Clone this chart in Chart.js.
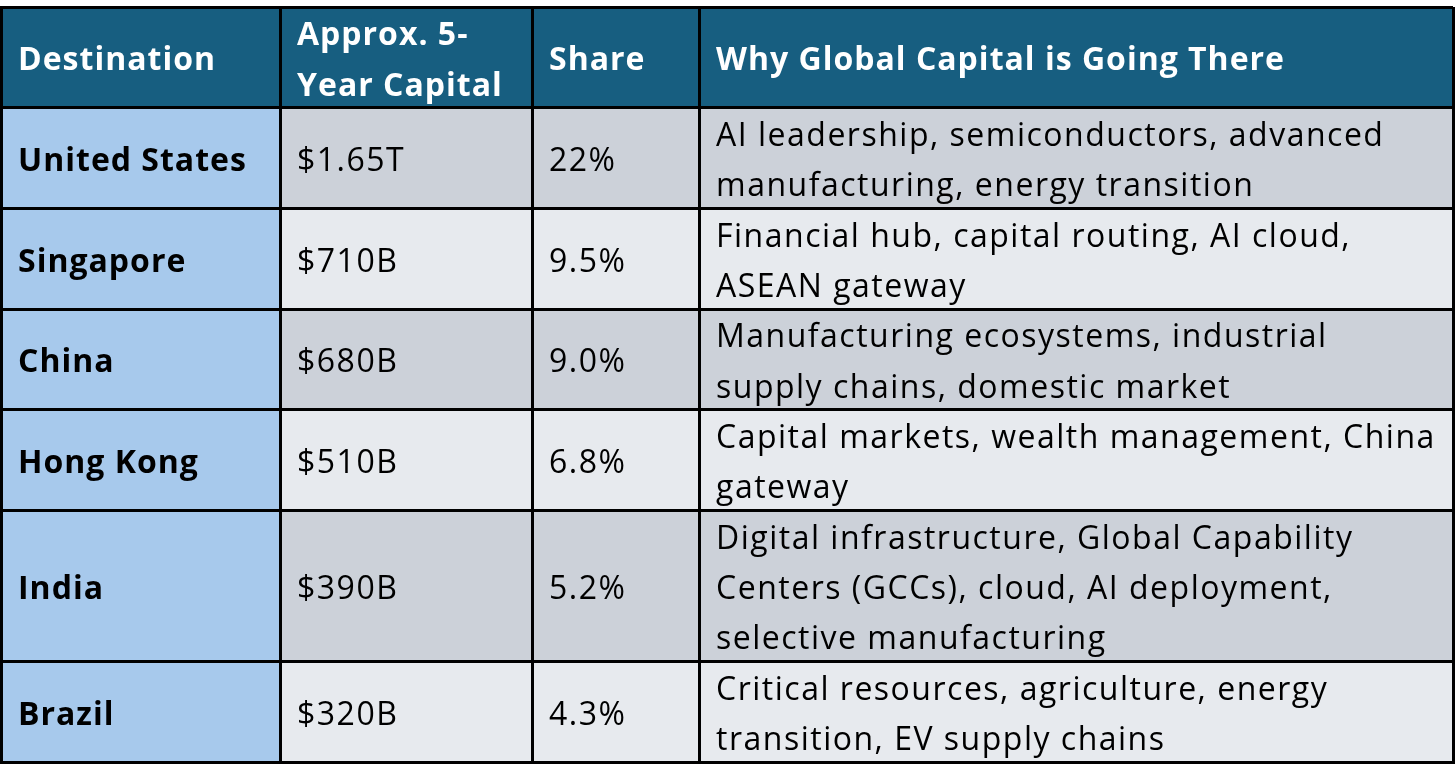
<!DOCTYPE html>
<html><head><meta charset="utf-8">
<style>html,body{margin:0;padding:0;background:#fff;overflow:hidden}
#wrap{width:1456px;height:784px;position:relative}</style>
<script src="https://cdn.jsdelivr.net/npm/chart.js@4.4.1/dist/chart.umd.min.js"></script>
</head><body><div id="wrap"><canvas id="c" width="1456" height="784"></canvas></div>
<script>
// ---- data ----
const headers = [["Destination"], ["Approx. 5-", "Year Capital"], ["Share"], ["Why Global Capital is Going There"]];
const destinations = ["United States", "Singapore", "China", "Hong Kong", "India", "Brazil"];
const capital = ["$1.65T", "$710B", "$680B", "$510B", "$390B", "$320B"];
const share = ["22%", "9.5%", "9.0%", "6.8%", "5.2%", "4.3%"];
const reasons = [
  ["AI leadership, semiconductors, advanced", "manufacturing, energy transition"],
  ["Financial hub, capital routing, AI cloud,", "ASEAN gateway"],
  ["Manufacturing ecosystems, industrial", "supply chains, domestic market"],
  ["Capital markets, wealth management, China", "gateway"],
  ["Digital infrastructure, Global Capability", "Centers (GCCs), cloud, AI deployment,", "selective manufacturing"],
  ["Critical resources, agriculture, energy", "transition, EV supply chains"]
];

// ---- layout / style ----
const colWidths = [279, 252, 167, 754];
const headerLines = 2;
const FONT = "'Open Sans', 'Noto Sans', sans-serif";
const FS = 32;
const LS_REG = "1.5px", LS_BOLD = "1px";
const TEXT_DY = 4;
const C_HEAD = "#175e80", C_FIRST = "#a7c9ec", C_DARK = "#ccd1d9", C_LIGHT = "#e7eaee";

const colEdges = [0];
colWidths.forEach(w => colEdges.push(colEdges[colEdges.length - 1] + w));
const rowLines = [headerLines].concat(reasons.map(r => Math.max(2, r.length)));
const rowEdges = [0];
rowLines.forEach(n => rowEdges.push(rowEdges[rowEdges.length - 1] + n));
const totalX = colEdges[colEdges.length - 1];
const totalY = rowEdges[rowEdges.length - 1];

function cell(x0, x1, y0, y1, color) {
  return {
    data: [{x: x0, y: y0}, {x: x1, y: y0}],
    fill: {value: y1}, backgroundColor: color, borderWidth: 0,
    pointRadius: 0, pointHoverRadius: 0, tension: 0
  };
}
const datasets = [cell(0, totalX, rowEdges[0], rowEdges[1], C_HEAD)];
destinations.forEach((d, i) => {
  datasets.push(cell(colEdges[0], colEdges[1], rowEdges[i + 1], rowEdges[i + 2], C_FIRST));
  datasets.push(cell(colEdges[1], totalX, rowEdges[i + 1], rowEdges[i + 2], i % 2 === 0 ? C_DARK : C_LIGHT));
});

const textPlugin = {
  id: 'tableText',
  afterDraw(chart) {
    const {ctx, scales: {x, y}} = chart;
    ctx.save();
    ctx.textBaseline = 'middle';
    ctx.textAlign = 'left';
    const pad = 17;
    function drawCell(lines, col, row, bold, color) {
      const top = rowEdges[row], n = rowLines[row];
      const start = top + (n - lines.length) / 2;
      ctx.font = (bold ? "bold " : "") + FS + "px " + FONT;
      if ('letterSpacing' in ctx) ctx.letterSpacing = bold ? LS_BOLD : LS_REG;
      ctx.fillStyle = color;
      lines.forEach((t, k) => {
        ctx.fillText(t, x.getPixelForValue(colEdges[col]) + pad, y.getPixelForValue(start + k + 0.5) + TEXT_DY);
      });
    }
    headers.forEach((h, c) => drawCell(h, c, 0, true, "#ffffff"));
    destinations.forEach((d, i) => {
      drawCell([d], 0, i + 1, true, "#000000");
      drawCell([capital[i]], 1, i + 1, false, "#000000");
      drawCell([share[i]], 2, i + 1, false, "#000000");
      drawCell(reasons[i], 3, i + 1, false, "#000000");
    });
    ctx.restore();
  }
};

function gridOpts() { return {color: "#000000", lineWidth: 3, drawTicks: false, offset: false, z: 1}; }
function borderOpts() { return {display: true, color: "#000000", width: 3, z: 1}; }
new Chart(document.getElementById('c'), {
  type: 'line',
  data: {datasets},
  options: {
    responsive: false, animation: false, events: [],
    layout: {padding: {left: 1, right: 3, top: 7, bottom: 22}},
    plugins: {legend: {display: false}, tooltip: {enabled: false}},
    scales: {
      x: {
        type: 'linear', min: 0, max: totalX,
        grid: gridOpts(), border: borderOpts(),
        ticks: {display: false},
        afterBuildTicks: s => { s.ticks = colEdges.map(v => ({value: v})); }
      },
      y: {
        type: 'linear', min: 0, max: totalY, reverse: true,
        grid: gridOpts(), border: borderOpts(),
        ticks: {display: false},
        afterBuildTicks: s => { s.ticks = rowEdges.map(v => ({value: v})); }
      }
    }
  },
  plugins: [textPlugin]
});
</script></body></html>
